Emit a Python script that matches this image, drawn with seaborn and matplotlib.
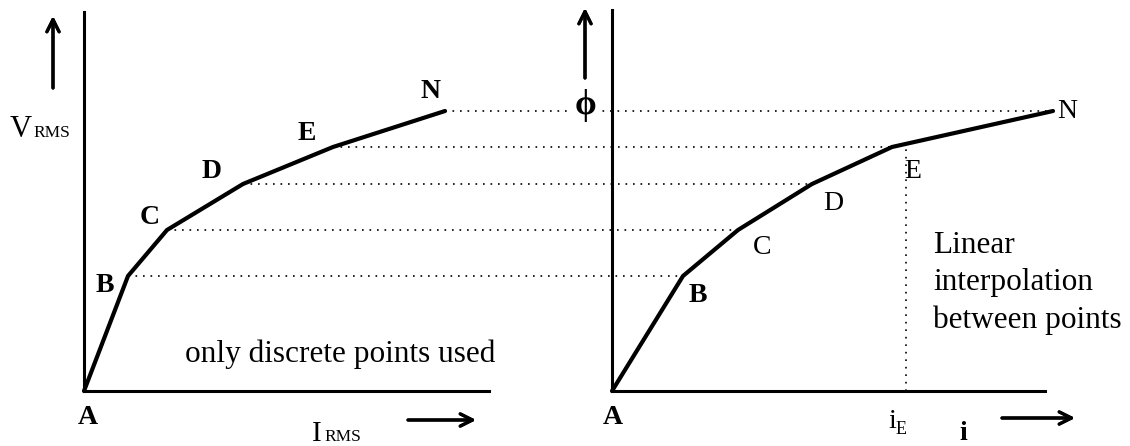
import matplotlib
matplotlib.use("Agg")
import matplotlib.pyplot as plt
from matplotlib.lines import Line2D
import numpy as np
import seaborn as sns

# points A..N, units ~ 100 px of the original drawing
point_names = ["A", "B", "C", "D", "E", "N"]
v_rms = [0.0, 1.15, 1.61, 2.07, 2.44, 2.80]      # left curve, y
i_rms = [0.0, 0.44, 0.83, 1.59, 2.49, 3.61]      # left curve, x
flux = [0.0, 1.15, 1.61, 2.07, 2.44, 2.80]       # right curve, y (same levels)
i_mag = [0.0, 0.71, 1.26, 2.00, 2.80, 4.41]      # right curve, x
i_e = 2.94

W, H = 1130, 446
sns.set_theme(style="white")
plt.rcParams["font.family"] = ["Liberation Serif", "DejaVu Serif"]
plt.rcParams["text.color"] = "black"

fig = plt.figure(figsize=(W / 100, H / 100), dpi=100)
ax1 = fig.add_axes([84 / W, 55 / H, 405 / W, 379 / H])
ax2 = fig.add_axes([612 / W, 55 / H, 433 / W, 381 / H])
ax1.set_xlim(0, 4.05)
ax1.set_ylim(0, 3.79)
ax2.set_xlim(0, 4.33)
ax2.set_ylim(0, 3.81)

for ax in (ax1, ax2):
    sns.despine(ax=ax)
    for s in ("left", "bottom"):
        ax.spines[s].set_linewidth(2.2)
        ax.spines[s].set_color("black")
    ax.set_xticks([])
    ax.set_yticks([])
    ax.patch.set_alpha(0)

sns.lineplot(x=i_rms, y=v_rms, ax=ax1, color="black", lw=3, sort=False)
sns.lineplot(x=i_mag, y=flux, ax=ax2, color="black", lw=3, sort=False)
for ax in (ax1, ax2):
    for ln in ax.lines:
        ln.set_clip_on(False)
        ln.set_solid_joinstyle("miter")

# dotted lines joining equal levels across both panels
dots = (0, (1, 3.5))
to_fig = fig.transFigure.inverted()
for k in range(1, len(point_names)):
    pa = to_fig.transform(ax1.transData.transform((i_rms[k], v_rms[k])))
    pb = to_fig.transform(ax2.transData.transform((i_mag[k], flux[k])))
    fig.add_artist(Line2D([pa[0], pb[0]], [pa[1], pb[1]],
                          transform=fig.transFigure, color="black", lw=1.2,
                          linestyle=dots, zorder=1))

# vertical read-off at i_E, down from the interpolated curve
ax2.vlines(i_e, 0, np.interp(i_e, i_mag, flux), color="black", lw=1.2,
           linestyle=dots)

# point labels
left_off = [(4, -27), (-23, -9), (-17, 12), (-31, 12), (-26, 13), (-15, 20)]
right_off = [(1, -27), (15, -19), (24, -18), (21, -19), (21, -24), (14, -1)]
for k, name in enumerate(point_names):
    ax1.annotate(name, (i_rms[k], v_rms[k]), xytext=left_off[k],
                 textcoords="offset pixels", ha="center", va="center",
                 fontsize=20, fontweight="bold", annotation_clip=False)
    bold = "bold" if name in ("A", "B") else "normal"
    ax2.annotate(name, (i_mag[k], flux[k]), xytext=right_off[k],
                 textcoords="offset pixels", ha="center", va="center",
                 fontsize=20, fontweight=bold, annotation_clip=False)


def fx(x):
    return x / W


def fy(y):
    return 1 - y / H


# axis arrows
arrow = dict(arrowstyle="->", lw=2.3, color="black", mutation_scale=22,
             shrinkA=0, shrinkB=0)
for tip, tail in [((53, 16), (53, 88)), ((585, 8), (585, 78)),
                  ((476, 420), (408, 420)), ((1075, 418), (1002, 418))]:
    fig.add_artist(plt.annotate("", xy=(fx(tip[0]), fy(tip[1])),
                                xytext=(fx(tail[0]), fy(tail[1])),
                                xycoords="figure fraction", arrowprops=arrow))

# axis names
fig.text(fx(10), fy(137), "V", fontsize=22, va="baseline", ha="left")
fig.text(fx(33), fy(137), "RMS", fontsize=12.5, va="baseline", ha="left")
fig.text(fx(312), fy(441), "I", fontsize=21, va="baseline", ha="left")
fig.text(fx(324), fy(441), "RMS", fontsize=12.5, va="baseline", ha="left")
fig.text(fx(585), fy(105), "\u03d5", fontsize=25, fontweight="bold",
         va="center", ha="center", zorder=5,
         bbox=dict(facecolor="white", edgecolor="none", pad=1.5))
fig.text(fx(888), fy(428), "i", fontsize=20, va="baseline", ha="left")
fig.text(fx(896), fy(434), "E", fontsize=13, va="baseline", ha="left")
fig.text(fx(963), fy(440), "i", fontsize=20, fontweight="bold",
         va="baseline", ha="center")

# notes
fig.text(fx(185), fy(362), "only discrete points used", fontsize=22.5,
         va="baseline", ha="left")
for line, base in zip(["Linear", "interpolation", "between points"],
                      [253, 290, 328]):
    fig.text(fx(933), fy(base), line, fontsize=22.5, va="baseline", ha="left")

fig.savefig("out.png", dpi=100)
